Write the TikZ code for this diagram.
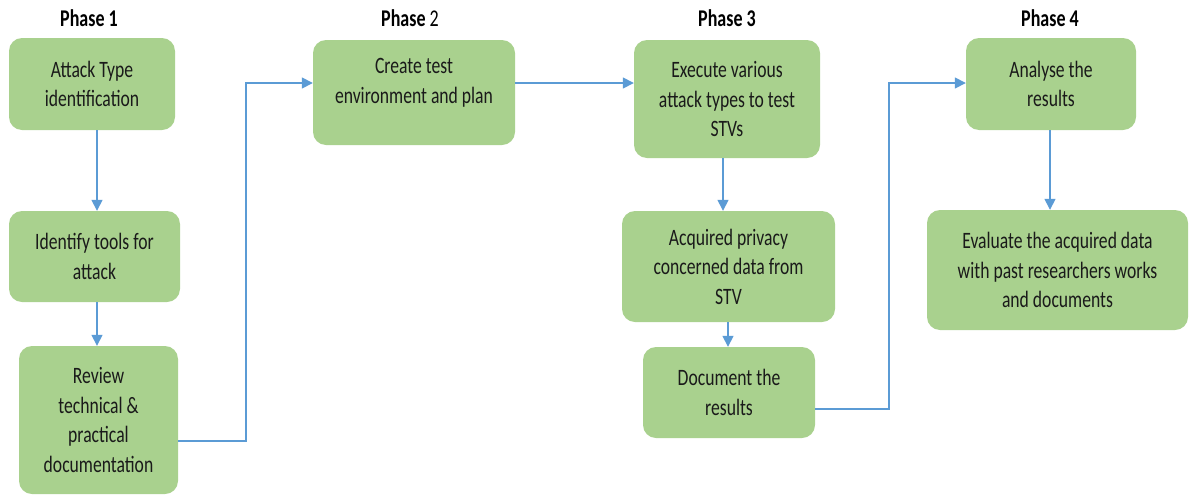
\documentclass[tikz,border=0pt]{standalone}
\usepackage{fontspec}
\setmainfont{Carlito}[FakeStretch=0.75]
\usetikzlibrary{arrows.meta}
\definecolor{boxgreen}{HTML}{A9D18E}
\definecolor{arrowblue}{HTML}{5B9BD5}
\definecolor{inktext}{HTML}{1A1A1A}
\begin{document}
\begin{tikzpicture}[x=1pt,y=-1pt,
  box/.style={fill=boxgreen, rounded corners=13pt, inner sep=0pt, align=center,
    text=inktext, font=\fontsize{23.5}{29.5}\selectfont},
  txt/.style={inner sep=0pt, align=center, text=inktext, font=\fontsize{23.5}{29.5}\selectfont},
  phase/.style={inner sep=0pt, text=black, font=\fontsize{24}{28}\selectfont},
  conn/.style={draw=arrowblue, line width=1.5pt, -{Triangle[length=11pt,width=11pt]}}]
\useasboundingbox (0,0) rectangle (1189,496);
% phase headings
\node[phase] (h1) at (89,18) {\bfseries Phase 1};
\node[phase] (h2) at (410,18) {\bfseries Phase\mdseries{} 2};
\node[phase] (h3) at (727,18) {\bfseries Phase 3};
\node[phase] (h4) at (1050,18) {\bfseries Phase 4};
% phase 1
\node[box, minimum width=166pt, minimum height=92pt] (b1) at (92,84) {Attack Type\\identification};
\node[box, minimum width=171pt, minimum height=91pt] (b2) at (94.5,256.5) {Identify tools for\\attack};
\node[box, minimum width=159pt, minimum height=148pt] (b3) at (98.5,420) {Review\\technical \&\\practical\\documentation};
% phase 2
\node[box, minimum width=202pt, minimum height=105pt] (p2) at (414,92.5) {};
\node[txt] (p2t) at (414,83) {Create test\\environment and plan};
% phase 3
\node[box, minimum width=186pt, minimum height=118pt] (c1) at (727,99) {Execute various\\attack types to test\\STVs};
\node[box, minimum width=213pt, minimum height=111pt] (c2) at (728.5,266.5) {Acquired privacy\\concerned data from\\STV};
\node[box, minimum width=172pt, minimum height=91pt] (c3) at (729,392.5) {Document the\\results};
% phase 4
\node[box, minimum width=170pt, minimum height=92pt] (d1) at (1051,84) {Analyse the\\results};
\node[box, minimum width=261pt, minimum height=120pt] (d2) at (1057.5,270) {Evaluate the acquired data\\with past researchers works\\and documents};
% connector guide coordinates
\coordinate (v1) at (97,0);
\coordinate (k1) at (246,83);
\coordinate (v3) at (723,0);
\coordinate (v4) at (728,0);
\coordinate (k2) at (889,83);
\coordinate (v5) at (1050,0);
% connectors
\draw[conn] (b1.south -| v1) -- (b2.north -| v1);
\draw[conn] (b2.south -| v1) -- (b3.north -| v1);
\draw[conn] ([yshift=-21pt]b3.east) -| (k1) -- (p2.west |- k1);
\draw[conn] (p2.east |- k1) -- (c1.west |- k1);
\draw[conn] (c1.south -| v3) -- (c2.north -| v3);
\draw[conn] (c2.south -| v4) -- (c3.north -| v4);
\draw[conn] ([yshift=-16.5pt]c3.east) -| (k2) -- (d1.west |- k2);
\draw[conn] (d1.south -| v5) -- (d2.north -| v5);
\end{tikzpicture}
\end{document}
